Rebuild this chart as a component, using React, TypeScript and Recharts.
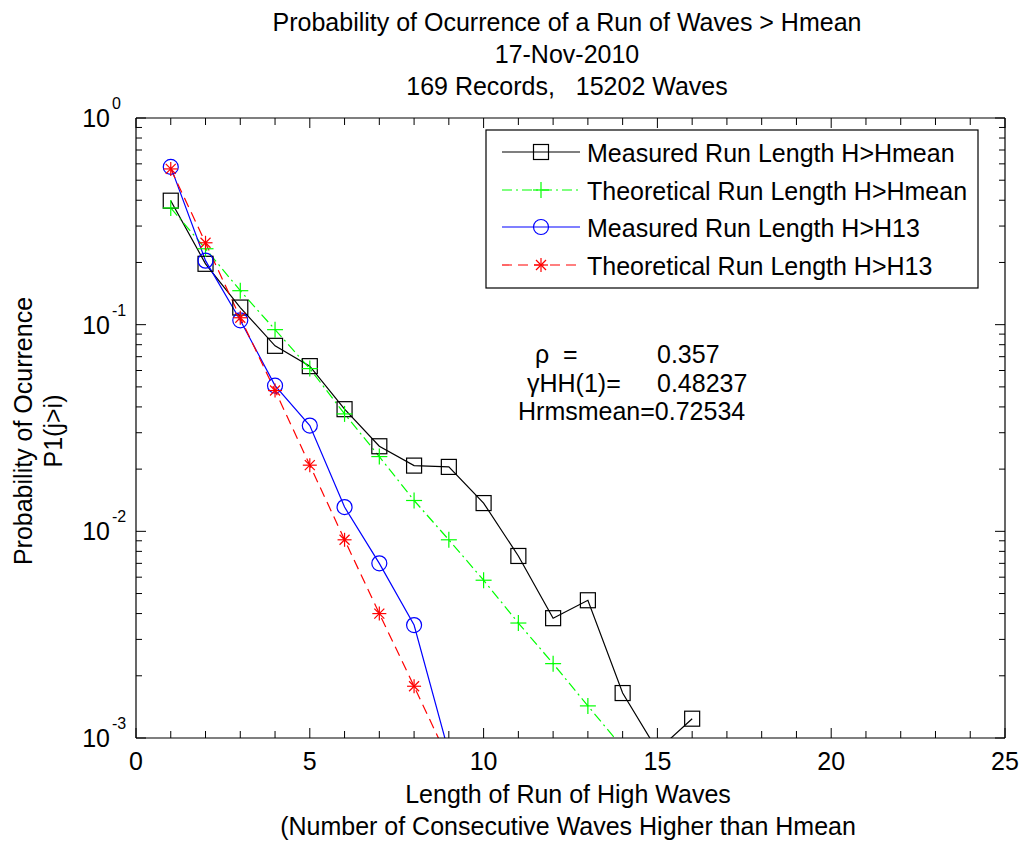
import React from 'react';
import { LineChart, Line, XAxis, YAxis } from 'recharts';

// ---- data ----
const runLength = [1, 2, 3, 4, 5, 6, 7, 8, 9, 10, 11, 12, 13, 14, 15, 16];
const measuredHmean = [0.398, 0.197, 0.121, 0.079, 0.063, 0.039, 0.0258, 0.0208, 0.0205, 0.0137, 0.0076, 0.0038, 0.00464, 0.00165, 0.00087, 0.00124];
const theoreticalHmean = [0.367, 0.233, 0.146, 0.0946, 0.0613, 0.037, 0.023, 0.0141, 0.0091, 0.0058, 0.0036, 0.00229, 0.00143, 0.0009, null, null];
const measuredH13 = [0.58, 0.204, 0.105, 0.0507, 0.0325, 0.0131, 0.007, 0.00352, 0.00085, null, null, null, null, null, null, null];
const theoreticalH13 = [0.567, 0.249, 0.108, 0.048, 0.0209, 0.0091, 0.004, 0.00178, 0.00078, null, null, null, null, null, null, null];

const xTicks = [0, 1, 2, 3, 4, 5, 6, 7, 8, 9, 10, 11, 12, 13, 14, 15, 16, 17, 18, 19, 20, 21, 22, 23, 24, 25];
const yTicks = [
  0.001, 0.002, 0.003, 0.004, 0.005, 0.006, 0.007, 0.008, 0.009,
  0.01, 0.02, 0.03, 0.04, 0.05, 0.06, 0.07, 0.08, 0.09,
  0.1, 0.2, 0.3, 0.4, 0.5, 0.6, 0.7, 0.8, 0.9, 1,
];

const titleLines = [
  'Probability of Ocurrence of a Run of Waves > Hmean',
  '17-Nov-2010',
  '169 Records,   15202 Waves',
];
const xLabelLines = ['Length of Run of High Waves', '(Number of Consecutive Waves Higher than Hmean'];
const yLabelLines = ['Probability of Ocurrence', 'P1(j>i)'];
const legendLabels = [
  'Measured Run Length H>Hmean',
  'Theoretical Run Length H>Hmean',
  'Measured Run Length H>H13',
  'Theoretical Run Length H>H13',
];
const statNames = ['\u03c1  =', '\u03b3HH(1)=', 'Hrmsmean='];
const statValues = ['0.357', '0.48237', '0.72534'];

const data = runLength.map((x, i) => ({
  x,
  mHmean: measuredHmean[i],
  tHmean: theoreticalHmean[i],
  mH13: measuredH13[i],
  tH13: theoreticalH13[i],
}));

const FONT = '"Liberation Sans", Arial, sans-serif';
const BLACK = '#000000';
const GREEN = '#00ff00';
const BLUE = '#0000ff';
const RED = '#ff0000';
const DASHDOT = '10 4 2 4';
const DASHED = '10 6';

// ---- markers ----
const SquareMark = ({ cx, cy, color }: any) => (
  <rect x={cx - 7.5} y={cy - 7.5} width={15} height={15} fill="none" stroke={color} strokeWidth={1.2} />
);
const PlusMark = ({ cx, cy, color }: any) => (
  <g stroke={color} strokeWidth={1.2}>
    <line x1={cx - 8} y1={cy} x2={cx + 8} y2={cy} />
    <line x1={cx} y1={cy - 8} x2={cx} y2={cy + 8} />
  </g>
);
const CircleMark = ({ cx, cy, color }: any) => (
  <circle cx={cx} cy={cy} r={7.5} fill="none" stroke={color} strokeWidth={1.2} />
);
const StarMark = ({ cx, cy, color }: any) => (
  <g stroke={color} strokeWidth={1.2}>
    <line x1={cx - 7} y1={cy} x2={cx + 7} y2={cy} />
    <line x1={cx} y1={cy - 7} x2={cx} y2={cy + 7} />
    <line x1={cx - 5} y1={cy - 5} x2={cx + 5} y2={cy + 5} />
    <line x1={cx - 5} y1={cy + 5} x2={cx + 5} y2={cy - 5} />
  </g>
);

const makeDot = (Mark: any, color: string, name: string) => (p: any) => {
  const key = `${name}-${p.index}`;
  if (p.cx == null || p.cy == null || p.value == null || (Array.isArray(p.value) && p.value[1] == null)) {
    return <g key={key} />;
  }
  return (
    <g key={key}>
      <Mark cx={p.cx} cy={p.cy} color={color} />
    </g>
  );
};

// ---- ticks ----
const isDecade = (v: number) => Math.abs(Math.log10(v) - Math.round(Math.log10(v))) < 1e-9;

const BottomTick = (props: any) => {
  const { x, y, payload } = props;
  const v = payload.value;
  const major = v % 5 === 0;
  return (
    <g>
      <line x1={x} y1={y} x2={x} y2={y - (major ? 10 : 7)} stroke={BLACK} />
      {major && (
        <text x={x} y={y + 32} textAnchor="middle" fontSize={25} fontFamily={FONT} fill={BLACK}>
          {v}
        </text>
      )}
    </g>
  );
};
const TopTick = (props: any) => {
  const { x, y, payload } = props;
  const major = payload.value % 5 === 0;
  return <line x1={x} y1={y} x2={x} y2={y + (major ? 10 : 7)} stroke={BLACK} />;
};
const LeftTick = (props: any) => {
  const { x, y, payload } = props;
  const v = payload.value;
  const major = isDecade(v);
  const exp = Math.round(Math.log10(v));
  return (
    <g>
      <line x1={x} y1={y} x2={x + (major ? 10 : 6)} y2={y} stroke={BLACK} />
      {major && (
        <g fontFamily={FONT} fill={BLACK}>
          <text x={x - 26} y={y + 9} textAnchor="end" fontSize={25}>10</text>
          <text x={x - 24} y={y - 9} textAnchor="start" fontSize={16}>{exp}</text>
        </g>
      )}
    </g>
  );
};
const RightTick = (props: any) => {
  const { x, y, payload } = props;
  const major = isDecade(payload.value);
  return <line x1={x} y1={y} x2={x - (major ? 10 : 6)} y2={y} stroke={BLACK} />;
};

// ---- overlay (title, labels, legend, stats) ----
const legendStyles = [
  { color: BLACK, dash: undefined, Mark: SquareMark },
  { color: GREEN, dash: DASHDOT, Mark: PlusMark },
  { color: BLUE, dash: undefined, Mark: CircleMark },
  { color: RED, dash: DASHED, Mark: StarMark },
];
const legendRowY = [152, 190, 227, 265];

const Overlay = () => (
  <svg
    width={1021}
    height={844}
    style={{ position: 'absolute', left: 0, top: 0, pointerEvents: 'none' }}
    fontFamily={FONT}
  >
    {titleLines.map((t, i) => (
      <text key={t} x={567} y={31 + i * 32} textAnchor="middle" fontSize={25} fill={BLACK} style={{ whiteSpace: 'pre' }}>
        {t}
      </text>
    ))}
    {xLabelLines.map((t, i) => (
      <text key={t} x={568} y={803 + i * 32} textAnchor="middle" fontSize={25} fill={BLACK}>
        {t}
      </text>
    ))}
    {yLabelLines.map((t, i) => {
      const bx = i === 0 ? 32 : 62;
      return (
        <text key={t} x={bx} y={431} transform={`rotate(-90, ${bx}, 431)`} textAnchor="middle" fontSize={25} fill={BLACK}>
          {t}
        </text>
      );
    })}
    {/* statistics */}
    <text x={535} y={363} fontSize={25} fill={BLACK} style={{ whiteSpace: 'pre' }}>{statNames[0]}</text>
    <text x={657} y={363} fontSize={25} fill={BLACK}>{statValues[0]}</text>
    <text x={527} y={392} fontSize={25} fill={BLACK}>{statNames[1]}</text>
    <text x={657} y={392} fontSize={25} fill={BLACK}>{statValues[1]}</text>
    <text x={518} y={420} fontSize={25} fill={BLACK}>{statNames[2] + statValues[2]}</text>
    {/* legend */}
    <rect x={486} y={130} width={492} height={158} fill="#ffffff" stroke={BLACK} strokeWidth={1.2} />
    {legendLabels.map((label, i) => {
      const s = legendStyles[i];
      const y = legendRowY[i];
      const M = s.Mark;
      return (
        <g key={label}>
          <line x1={502} y1={y} x2={580} y2={y} stroke={s.color} strokeWidth={1.2} strokeDasharray={s.dash} />
          <M cx={541} cy={y} color={s.color} />
          <text x={587} y={y + 10} fontSize={25} fill={BLACK}>{label}</text>
        </g>
      );
    })}
  </svg>
);

export default function App() {
  return (
    <div style={{ position: 'absolute', left: 0, top: 0, width: 1021, height: 844, background: '#ffffff' }}>
      <div style={{ position: 'absolute', left: 0, top: 0 }}>
        <LineChart
          width={1021}
          height={844}
          data={data}
          margin={{ top: 108, right: 6, bottom: 66, left: 76 }}
        >
          <XAxis
            dataKey="x"
            type="number"
            domain={[0, 25]}
            ticks={xTicks}
            interval={0}
            allowDataOverflow
            height={40}
            tickSize={0}
            tickMargin={0}
            tickLine={false}
            axisLine={{ stroke: BLACK, strokeWidth: 1.2 }}
            tick={BottomTick}
          />
          <XAxis
            xAxisId="top"
            orientation="top"
            dataKey="x"
            type="number"
            domain={[0, 25]}
            ticks={xTicks}
            interval={0}
            allowDataOverflow
            height={10}
            tickSize={0}
            tickMargin={0}
            tickLine={false}
            axisLine={{ stroke: BLACK, strokeWidth: 1.2 }}
            tick={TopTick}
          />
          <YAxis
            type="number"
            scale="log"
            domain={[0.001, 1]}
            ticks={yTicks}
            interval={0}
            allowDataOverflow
            width={60}
            tickSize={0}
            tickMargin={0}
            tickLine={false}
            axisLine={{ stroke: BLACK, strokeWidth: 1.2 }}
            tick={LeftTick}
          />
          <YAxis
            yAxisId="right"
            orientation="right"
            type="number"
            scale="log"
            domain={[0.001, 1]}
            ticks={yTicks}
            interval={0}
            allowDataOverflow
            width={10}
            tickSize={0}
            tickMargin={0}
            tickLine={false}
            axisLine={{ stroke: BLACK, strokeWidth: 1.2 }}
            tick={RightTick}
          />
          <Line
            dataKey="mHmean"
            stroke={BLACK}
            strokeWidth={1.2}
            dot={makeDot(SquareMark, BLACK, 'sq')}
            isAnimationActive={false}
            type="linear"
          />
          <Line
            dataKey="tHmean"
            stroke={GREEN}
            strokeWidth={1.2}
            strokeDasharray={DASHDOT}
            dot={makeDot(PlusMark, GREEN, 'pl')}
            isAnimationActive={false}
            type="linear"
          />
          <Line
            dataKey="mH13"
            stroke={BLUE}
            strokeWidth={1.2}
            dot={makeDot(CircleMark, BLUE, 'ci')}
            isAnimationActive={false}
            type="linear"
          />
          <Line
            dataKey="tH13"
            stroke={RED}
            strokeWidth={1.2}
            strokeDasharray={DASHED}
            dot={makeDot(StarMark, RED, 'st')}
            isAnimationActive={false}
            type="linear"
          />
        </LineChart>
      </div>
      <Overlay />
    </div>
  );
}
